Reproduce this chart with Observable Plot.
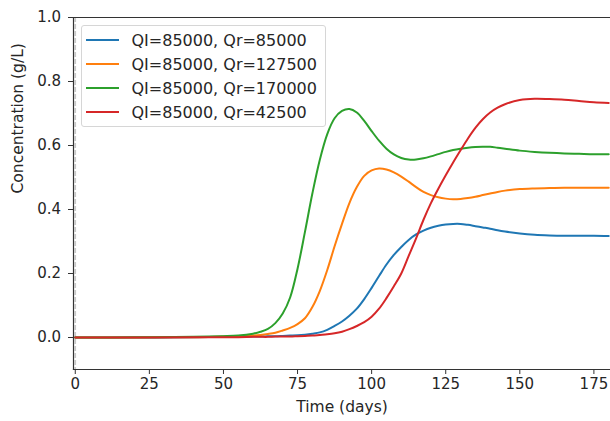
<!DOCTYPE html>
<html>
<head>
<meta charset="utf-8">
<script src="https://cdn.jsdelivr.net/npm/d3@7"></script>
<script src="https://cdn.jsdelivr.net/npm/@observablehq/plot@0.6"></script>
<style>
  html, body { margin: 0; padding: 0; background: #fff; }
  #wrap { position: relative; width: 610px; height: 421px; font-family: "DejaVu Sans", sans-serif; }
  #legend { position: absolute; left: 81px; top: 25px; width: 245px; height: 102px; box-sizing: border-box;
    border: 1px solid #d6d6d6; border-radius: 3px; background: rgba(255,255,255,0.85); padding: 2px 0 0 4px; }
  .item { display: flex; align-items: center; height: 24px; font-size: 16px; color: #262626; white-space: nowrap; }
  .sw { width: 33px; height: 2px; margin-right: 12.5px; flex: none; }
</style>
</head>
<body>
<div id="wrap"><div id="legend"></div></div>
<script>
// Time axis (days)
const days = [0, 20, 40, 50, 55, 60, 62.5, 65, 67.5, 70, 72.5, 75, 77.5, 80, 82.5, 85, 87.5, 90, 92.5, 95, 97.5, 100, 102.5, 105, 107.5, 110, 112.5, 115, 117.5, 120, 122.5, 125, 127.5, 130, 132.5, 135, 137.5, 140, 142.5, 145, 150, 155, 160, 165, 170, 175, 180];

// Series labels and colours
const seriesNames = ["QI=85000, Qr=85000", "QI=85000, Qr=127500", "QI=85000, Qr=170000", "QI=85000, Qr=42500"];
const seriesColors = ["#1f77b4", "#ff7f0e", "#2ca02c", "#d62728"];

// Concentration values (g/L)
const qr85000 = [0, 0, 0.001, 0.002, 0.002, 0.003, 0.003, 0.004, 0.004, 0.005, 0.006, 0.007, 0.009, 0.012, 0.016, 0.024, 0.036, 0.05, 0.068, 0.09, 0.12, 0.155, 0.192, 0.228, 0.258, 0.283, 0.305, 0.322, 0.334, 0.343, 0.349, 0.353, 0.355, 0.355, 0.352, 0.348, 0.344, 0.34, 0.335, 0.331, 0.325, 0.321, 0.319, 0.318, 0.318, 0.318, 0.317];
const qr127500 = [0, 0.0003, 0.001, 0.003, 0.004, 0.006, 0.008, 0.011, 0.015, 0.022, 0.03, 0.042, 0.06, 0.095, 0.145, 0.21, 0.285, 0.355, 0.42, 0.47, 0.505, 0.522, 0.528, 0.525, 0.516, 0.503, 0.487, 0.47, 0.455, 0.445, 0.438, 0.434, 0.432, 0.433, 0.436, 0.44, 0.445, 0.45, 0.455, 0.459, 0.464, 0.466, 0.467, 0.468, 0.468, 0.468, 0.468];
const qr170000 = [0, 0.0005, 0.002, 0.004, 0.006, 0.012, 0.018, 0.027, 0.045, 0.075, 0.125, 0.215, 0.33, 0.45, 0.555, 0.635, 0.685, 0.708, 0.714, 0.703, 0.677, 0.645, 0.615, 0.59, 0.572, 0.561, 0.556, 0.556, 0.56, 0.566, 0.573, 0.58, 0.586, 0.59, 0.593, 0.595, 0.596, 0.596, 0.593, 0.59, 0.584, 0.58, 0.577, 0.575, 0.574, 0.573, 0.573];
const qr42500 = [0, 0, 0.0005, 0.001, 0.001, 0.002, 0.002, 0.002, 0.003, 0.003, 0.003, 0.004, 0.005, 0.006, 0.008, 0.01, 0.013, 0.018, 0.026, 0.036, 0.048, 0.065, 0.09, 0.123, 0.16, 0.2, 0.255, 0.31, 0.368, 0.42, 0.465, 0.507, 0.547, 0.585, 0.622, 0.655, 0.682, 0.703, 0.718, 0.729, 0.742, 0.746, 0.745, 0.743, 0.739, 0.735, 0.733];

// Tick labels
const xTicks = [0, 25, 50, 75, 100, 125, 150, 175];
const yTicks = [0.0, 0.2, 0.4, 0.6, 0.8, 1.0];

const seriesValues = [qr85000, qr127500, qr170000, qr42500];
const rows = seriesValues.flatMap((vals, i) => vals.map((v, j) => ({day: days[j], conc: v, series: seriesNames[i]})));

const axisColor = "#333";
const textColor = "#262626";

const chart = Plot.plot({
  width: 610,
  height: 421,
  marginLeft: 73,
  marginTop: 17,
  marginBottom: 52,
  marginRight: 0,
  style: {fontFamily: "DejaVu Sans, sans-serif", fontSize: "15px", color: textColor, background: "white"},
  x: {domain: [-0.6, 180.6]},
  y: {domain: [-0.1, 1.0]},
  color: {domain: seriesNames, range: seriesColors},
  marks: [
    Plot.ruleX([0], {stroke: "#c8c8c8", strokeWidth: 1.6, strokeDasharray: "5,2"}),
    Plot.line(rows, {x: "day", y: "conc", z: "series", stroke: "series", strokeWidth: 2, curve: "catmull-rom"}),
    Plot.frame({anchor: "left", stroke: axisColor, strokeWidth: 1.2}),
    Plot.frame({anchor: "bottom", stroke: axisColor, strokeWidth: 1.2}),
    Plot.frame({anchor: "top", stroke: axisColor, strokeWidth: 1.2}),
    Plot.axisX({ticks: xTicks, tickSize: 5, tickPadding: 3.5, label: null, stroke: axisColor, fill: textColor, fontSize: 15}),
    Plot.axisY({ticks: yTicks, tickSize: 5, tickPadding: 7.5, tickFormat: d3.format(".1f"), label: null, stroke: axisColor, fill: textColor, fontSize: 15}),
    Plot.text(["Time (days)"], {frameAnchor: "bottom", dy: 42, fill: textColor, fontSize: 15.5}),
    Plot.text(["Concentration (g/L)"], {frameAnchor: "left", dx: -55, rotate: -90, fill: textColor, fontSize: 15.5})
  ]
});

const wrap = document.getElementById("wrap");
wrap.insertBefore(chart, wrap.firstChild);

const legend = document.getElementById("legend");
seriesNames.forEach((name, i) => {
  const it = document.createElement("div");
  it.className = "item";
  const sw = document.createElement("span");
  sw.className = "sw";
  sw.style.background = seriesColors[i];
  const t = document.createElement("span");
  t.textContent = name;
  it.appendChild(sw);
  it.appendChild(t);
  legend.appendChild(it);
});
</script>
</body>
</html>
